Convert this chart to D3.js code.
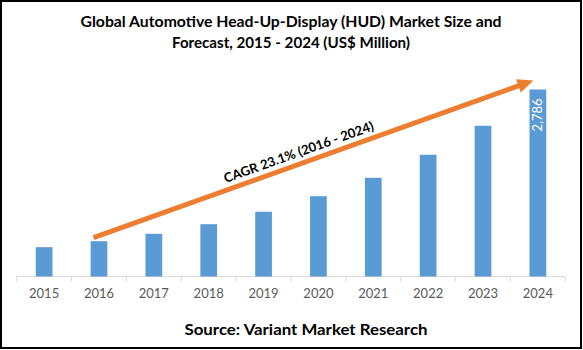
<!DOCTYPE html>
<html>
<head>
<meta charset="utf-8">
<script src="https://cdn.jsdelivr.net/npm/d3@7"></script>
<style>
  html, body { margin: 0; padding: 0; background: #fff; }
  svg { display: block; }
</style>
</head>
<body>
<svg id="chart" width="583" height="350"></svg>
<script>
const years = ["2015","2016","2017","2018","2019","2020","2021","2022","2023","2024"];
const marketSize = [437, 526, 636, 779, 964, 1196, 1470, 1813, 2245, 2786];
const titleLines = ["Global Automotive Head-Up-Display (HUD) Market Size and", "Forecast, 2015 - 2024 (US$ Million)"];
const cagrLabel = "CAGR 23.1% (2016 - 2024)";
const sourceText = "Source: Variant Market Research";
const labelledYear = "2024";
const cagrStart = "2016", cagrEnd = "2024";

const font = "Lato, 'Open Sans', sans-serif";
const svg = d3.select("#chart");

// frame
svg.append("rect").attr("x", 1).attr("y", 1).attr("width", 580).attr("height", 347)
  .attr("fill", "#fff").attr("stroke", "#000").attr("stroke-width", 2);

// title
const tLens = [421, 238];
titleLines.forEach((t, i) => {
  svg.append("text").attr("x", 291).attr("y", 27 + i * 21)
    .attr("text-anchor", "middle")
    .attr("font-family", font).attr("font-weight", "bold").attr("font-size", 16)
    .attr("fill", "#000")
    .attr("textLength", tLens[i]).attr("lengthAdjust", "spacingAndGlyphs")
    .text(t);
});

const x = d3.scaleBand().domain(years).range([16.7, 565.3]).padding(0);
const y = d3.scaleLinear().domain([0, 3000]).range([276.5, 276.5 - 201.4]);
const bw = x.bandwidth();
const barW = bw * 0.305;

// axis
const axis = svg.append("g").attr("transform", "translate(0,276.5)");
axis.append("line").attr("x1", 16.7).attr("x2", 565.3).attr("stroke", "#d9d9d9").attr("stroke-width", 1);
const tickXs = years.map(d => x(d)).concat([565.3]);
axis.selectAll("line.tick").data(tickXs).enter().append("line")
  .attr("class", "tick").attr("x1", d => d).attr("x2", d => d)
  .attr("y1", 0).attr("y2", 5).attr("stroke", "#d9d9d9").attr("stroke-width", 1);
axis.selectAll("text").data(years).enter().append("text")
  .attr("x", d => x(d) + bw / 2).attr("y", 21.5)
  .attr("text-anchor", "middle")
  .attr("font-family", font).attr("font-size", 13).attr("fill", "#595959")
  .text(d => d);

// bars
const data = years.map((yr, i) => ({ yr, v: marketSize[i] }));
svg.append("g").selectAll("rect").data(data).enter().append("rect")
  .attr("x", d => x(d.yr) + (bw - barW) / 2)
  .attr("y", d => y(d.v))
  .attr("width", barW)
  .attr("height", d => y(0) - y(d.v))
  .attr("fill", "#5B9BD5");

// value label on 2024
const last = data.find(d => d.yr === labelledYear);
svg.append("text")
  .attr("transform", `translate(${x(last.yr) + bw / 2 + 4.5},${y(last.v) + 9}) rotate(-90)`)
  .attr("text-anchor", "end")
  .attr("font-family", font).attr("font-size", 13).attr("fill", "#fff")
  .text(d3.format(",")(last.v));

// CAGR arrow
const sV = marketSize[years.indexOf(cagrStart)];
const eV = marketSize[years.indexOf(cagrEnd)];
const x0 = x(cagrStart) + bw * 0.4, y0 = y(sV) - 3.5;
const x1 = x(cagrEnd) + bw * 0.42, y1 = y(eV) - 9;
const ang = Math.atan2(y1 - y0, x1 - x0);
const headLen = 16, headHalf = 7;
const bx = x1 - headLen * Math.cos(ang), by = y1 - headLen * Math.sin(ang);
svg.append("line").attr("x1", x0).attr("y1", y0).attr("x2", bx + 2 * Math.cos(ang)).attr("y2", by + 2 * Math.sin(ang))
  .attr("stroke", "#ED7D31").attr("stroke-width", 5);
const px = -Math.sin(ang), py = Math.cos(ang);
svg.append("path")
  .attr("d", `M${x1},${y1} L${bx + px * headHalf},${by + py * headHalf} L${bx - px * headHalf},${by - py * headHalf} Z`)
  .attr("fill", "#ED7D31");

// CAGR label
const t = 0.475;
const lx = x0 + (x1 - x0) * t, ly = y0 + (y1 - y0) * t;
const off = 7;
svg.append("text")
  .attr("transform", `translate(${lx - px * off},${ly - py * off}) rotate(${ang * 180 / Math.PI})`)
  .attr("text-anchor", "middle")
  .attr("font-family", font).attr("font-weight", "bold").attr("font-size", 13).attr("fill", "#000")
  .attr("textLength", 158).attr("lengthAdjust", "spacingAndGlyphs")
  .text(cagrLabel);

// source
svg.append("text").attr("x", 306).attr("y", 335)
  .attr("text-anchor", "middle")
  .attr("font-family", font).attr("font-weight", "bold").attr("font-size", 16).attr("fill", "#000")
  .attr("textLength", 243).attr("lengthAdjust", "spacingAndGlyphs")
  .text(sourceText);
</script>
</body>
</html>
